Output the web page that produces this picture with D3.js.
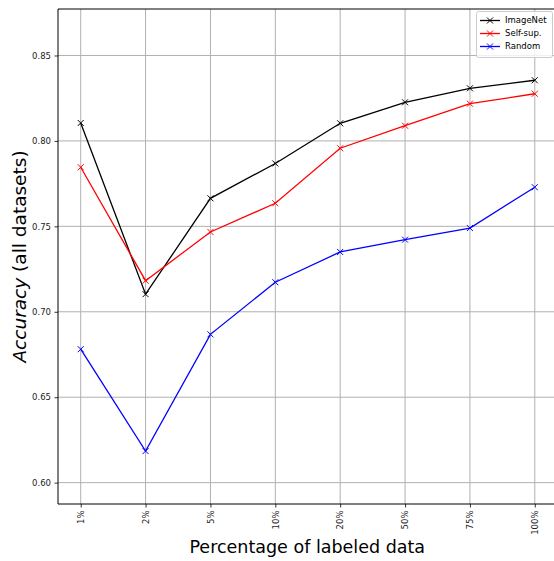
<!DOCTYPE html>
<html>
<head>
<meta charset="utf-8">
<script src="https://cdn.jsdelivr.net/npm/d3@7"></script>
<style>
  html, body { margin: 0; padding: 0; background: #fff; }
  svg { display: block; }
  text { font-family: "DejaVu Sans", sans-serif; }
</style>
</head>
<body>
<div id="chart"></div>
<script>
// Labeled-data fractions on the x axis
const categories = ["1%", "2%", "5%", "10%", "20%", "50%", "75%", "100%"];

// Accuracy averaged over all datasets, per initialisation
const imagenet = [0.8105, 0.7103, 0.7664, 0.7868, 0.8103, 0.8226, 0.8308, 0.8355];
const selfSup  = [0.7846, 0.7182, 0.7467, 0.7635, 0.7957, 0.8089, 0.8218, 0.8276];
const random   = [0.6781, 0.6185, 0.6868, 0.7173, 0.7350, 0.7422, 0.7490, 0.7729];

const seriesNames  = ["ImageNet", "Self-sup.", "Random"];
const seriesColors = ["#000000", "#ff0000", "#0000ff"];
const yTicks = [0.60, 0.65, 0.70, 0.75, 0.80, 0.85];

const W = 554, H = 561;
const plot = { left: 58, top: 9, bottom: 504, right: 557.5 };

const svg = d3.select("#chart").append("svg")
  .attr("width", W).attr("height", H);

const x = d3.scaleLinear()
  .domain([-0.35, categories.length - 1 + 0.35])
  .range([plot.left, plot.right]);

const y = d3.scaleLinear()
  .domain([0.5875, 0.8772])
  .range([plot.bottom, plot.top]);

// Grid
const grid = svg.append("g").attr("class", "grid");
grid.selectAll("line.gx").data(categories).join("line")
  .attr("x1", (d, i) => x(i)).attr("x2", (d, i) => x(i))
  .attr("y1", plot.top).attr("y2", plot.bottom)
  .attr("stroke", "#b0b0b0").attr("stroke-width", 1);
grid.selectAll("line.gy").data(yTicks).join("line")
  .attr("x1", plot.left).attr("x2", plot.right)
  .attr("y1", d => y(d)).attr("y2", d => y(d))
  .attr("stroke", "#b0b0b0").attr("stroke-width", 1);

// Axes
const xAxis = d3.axisBottom(x)
  .tickValues(d3.range(categories.length))
  .tickFormat(i => categories[i])
  .tickSize(3.5).tickPadding(3);
const gx = svg.append("g")
  .attr("transform", `translate(0,${plot.bottom})`)
  .call(xAxis);
gx.select(".domain").remove();
gx.selectAll(".tick line").attr("stroke", "#000").attr("stroke-width", 0.8);
gx.selectAll(".tick text")
  .attr("font-size", 8.5)
  .attr("fill", "#222")
  .attr("transform", "rotate(-90)")
  .attr("text-anchor", "end")
  .attr("dy", "0.32em")
  .attr("x", -6.5)
  .attr("y", 0);

const yAxis = d3.axisLeft(y)
  .tickValues(yTicks)
  .tickFormat(d3.format(".2f"))
  .tickSize(3.5).tickPadding(3.5);
const gy = svg.append("g")
  .attr("transform", `translate(${plot.left},0)`)
  .call(yAxis);
gy.select(".domain").remove();
gy.selectAll(".tick line").attr("stroke", "#000").attr("stroke-width", 0.8);
gy.selectAll(".tick text").attr("font-size", 8.5).attr("fill", "#222");

// Spines
const spine = (x1, y1, x2, y2) => svg.append("line")
  .attr("x1", x1).attr("y1", y1).attr("x2", x2).attr("y2", y2)
  .attr("stroke", "#000").attr("stroke-width", 1);
spine(plot.left, plot.top, plot.left, plot.bottom);
spine(plot.left, plot.bottom, plot.right, plot.bottom);
spine(plot.left, plot.top, plot.right, plot.top);
spine(plot.right, plot.top, plot.right, plot.bottom);

// Series
const allSeries = [imagenet, selfSup, random];
const line = d3.line().x((d, i) => x(i)).y(d => y(d));

function crossMark(g, cx, cy, color, s) {
  g.append("path")
    .attr("d", `M${cx - s},${cy - s}L${cx + s},${cy + s}M${cx - s},${cy + s}L${cx + s},${cy - s}`)
    .attr("stroke", color).attr("stroke-width", 1).attr("fill", "none");
}

allSeries.forEach((vals, k) => {
  const g = svg.append("g");
  g.append("path").datum(vals)
    .attr("d", line)
    .attr("fill", "none")
    .attr("stroke", seriesColors[k])
    .attr("stroke-width", 1.3);
  vals.forEach((v, i) => crossMark(g, x(i), y(v), seriesColors[k], 3));
});

// Legend
const lg = svg.append("g");
lg.append("rect")
  .attr("x", 476.5).attr("y", 11.5).attr("width", 76).attr("height", 46)
  .attr("rx", 2).attr("fill", "#fff").attr("fill-opacity", 0.8)
  .attr("stroke", "#ccc").attr("stroke-width", 1);
seriesNames.forEach((name, k) => {
  const ly = 20.5 + k * 13;
  lg.append("line").attr("x1", 480).attr("x2", 500).attr("y1", ly).attr("y2", ly)
    .attr("stroke", seriesColors[k]).attr("stroke-width", 1.3);
  crossMark(lg, 490, ly, seriesColors[k], 3);
  lg.append("text").attr("x", 505).attr("y", ly).attr("dy", "0.35em")
    .attr("font-size", 8.5).attr("fill", "#000").text(name);
});

// Axis titles
svg.append("text")
  .attr("x", (plot.left + plot.right) / 2 - 0.5).attr("y", 553)
  .attr("text-anchor", "middle")
  .attr("font-size", 17.5)
  .attr("fill", "#000")
  .text("Percentage of labeled data");

const yl = svg.append("text")
  .attr("transform", `translate(26,${(plot.top + plot.bottom) / 2}) rotate(-90)`)
  .attr("text-anchor", "middle")
  .attr("font-size", 18.5)
  .attr("fill", "#000");
yl.append("tspan").attr("font-style", "italic").text("Accuracy");
yl.append("tspan").text(" (all datasets)");
</script>
</body>
</html>
